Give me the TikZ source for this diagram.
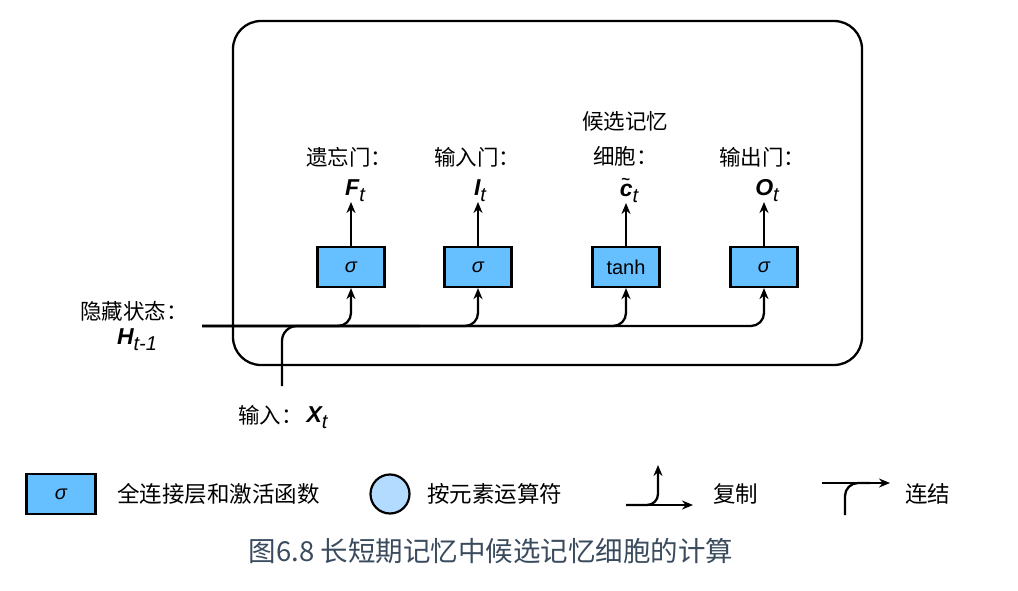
\documentclass[tikz,border=0pt]{standalone}
\usepackage{fontspec}
\setmainfont{Liberation Sans}
\newfontfamily\cjk{Noto Sans CJK SC}
\usepackage{xcolor}
\usepackage{tikz}
\usetikzlibrary{arrows.meta}

\definecolor{layerblue}{HTML}{66BFFF}
\definecolor{opblue}{HTML}{B3DAFF}
\definecolor{capgray}{HTML}{3A4B5E}

%% symboles en gras italique avec indice
\newcommand{\symb}[2]{{\fontsize{23}{26}\selectfont\bfseries\itshape #1}\raisebox{-6pt}{\fontsize{20}{22}\selectfont\itshape #2}}
\newcommand{\tildec}{{\fontsize{23}{26}\selectfont\bfseries\itshape\rlap{\hspace{1.5pt}\raisebox{12.5pt}{\upshape\fontsize{15}{15}\selectfont\char"007E}}c}}

\tikzset{
  layer/.style={draw, line width=2.2pt, fill=layerblue, minimum width=67pt,
    minimum height=40pt, inner sep=0pt, font=\fontsize{20}{22}\selectfont},
  lbl/.style={inner sep=0pt, font=\cjk\fontsize{21.5}{24}\selectfont},
  lgd/.style={inner sep=0pt, font=\cjk\fontsize{22.5}{25}\selectfont},
  sym/.style={inner sep=0pt},
  flow/.style={line width=2.3pt},
}

\begin{document}
\begin{tikzpicture}[x=1pt, y=-1pt, >={Stealth[length=11pt,width=9pt]}]
\useasboundingbox (0,0) rectangle (1018,591);

%% cellule
\def\r{28pt};
\draw[line width=2.3pt, rounded corners=\r] (233,21) rectangle (862,365);

%% couches
\node[layer] (fg) at (351,267) {\itshape σ};
\node[layer] (ig) at (478,267) {\itshape σ};
\node[layer] (cg) at (626,267) {tanh};
\node[layer] (og) at (764,267) {\itshape σ};

%% sorties
\node[sym, anchor=south] (ft) at (355,202) {\symb{F}{t}};
\node[sym, anchor=south] (it) at (480,202) {\symb{I}{t}};
\node[sym, anchor=south] (ct) at (629,203) {\tildec\raisebox{-6pt}{\fontsize{20}{22}\selectfont\itshape t}};
\node[sym, anchor=south] (ot) at (767,202) {\symb{O}{t}};
\node[lbl, anchor=west] (fname) at (306,157) {遗忘门：};
\node[lbl, anchor=west] (iname) at (434,157) {输入门：};
\node[lbl, anchor=west] (cname1) at (582,121) {候选记忆};
\node[lbl, anchor=west] (cname2) at (593,156) {细胞：};
\node[lbl, anchor=west] (oname) at (719,157) {输出门：};
\draw[flow, ->] (fg.north) -- (fg.north |- ft.south);
\draw[flow, ->] (ig.north) -- (ig.north |- it.south);
\draw[flow, ->] (cg.north) -- (cg.north |- ct.south);
\draw[flow, ->] (og.north) -- (og.north |- ot.south);

%% entrees
\node[lbl, anchor=west] (hname) at (80,311) {隐藏状态：};
\node[sym] (ht) at (137,340) {\symb{H}{t-1}};
\node[lbl, anchor=west] (xname) at (238,415) {输入：};
\node[sym] (xt) at (317,418) {\symb{X}{t}};
\coordinate (hin) at (202,326);
\coordinate (xin) at (282,386);
\draw[flow, rounded corners=15pt] (xin) |- (420,326);
\draw[flow, ->, rounded corners=13pt] (hin) -- (og.south |- hin) -- (og.south);
\draw[flow, ->, rounded corners=13pt] (hin) -| (fg.south);
\draw[flow, ->, rounded corners=13pt] (hin) -| (ig.south);
\draw[flow, ->, rounded corners=13pt] (hin) -| (cg.south);

%% legende
\node[layer, minimum width=69pt] (lgbox) at (61,494) {\itshape σ};
\node[lgd, anchor=west] (lgboxt) at (117,494) {全连接层和激活函数};
\node[circle, draw, line width=2.2pt, fill=opblue, minimum size=39pt, inner sep=0pt] (lgop) at (390,494) {};
\node[lgd, anchor=west] (lgopt) at (427,494) {按元素运算符};
\coordinate (cpa) at (626,505);
\coordinate (cpb) at (693,505);
\coordinate (cpc) at (658,465);
\draw[flow, ->] (cpa) -- (cpb);
\draw[flow, ->, rounded corners=11pt] (cpa) -| (cpc);
\node[lgd, anchor=west] (cpt) at (713,494) {复制};
\coordinate (cca) at (822,483);
\coordinate (ccb) at (890,483);
\coordinate (ccc) at (845,515);
\draw[flow, ->] (cca) -- (ccb);
\draw[flow, rounded corners=13pt] (ccc) |- (870,483);
\node[lgd, anchor=west] (cct) at (905,494) {连结};

%% titre
\node[inner sep=0pt, text=capgray, font=\cjk\fontsize{27.5}{30}\selectfont] (cap) at (491,551) {图6.8 长短期记忆中候选记忆细胞的计算};

\end{tikzpicture}
\end{document}
